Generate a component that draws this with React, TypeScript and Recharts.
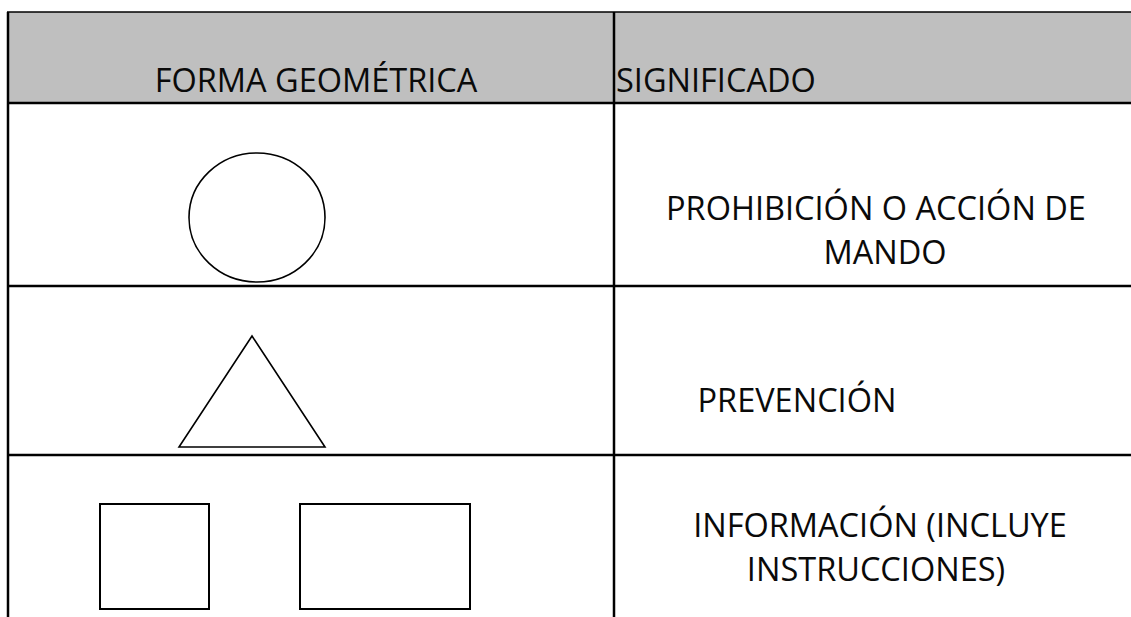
import { ComposedChart, XAxis, YAxis, ReferenceArea, ReferenceLine, Scatter } from 'recharts';

// table geometry, in page pixels (axes are 1:1 with the canvas)
const rowRules = [12, 103, 286, 455];
const columnRules = [8, 614];

const headerLabels = ['FORMA GEOMÉTRICA', 'SIGNIFICADO'];
const headerX = [316, 616];
const headerY = [92, 92];

const meaningLines = [
    'PROHIBICIÓN O ACCIÓN DE',
    'MANDO',
    'PREVENCIÓN',
    'INFORMACIÓN (INCLUYE',
    'INSTRUCCIONES)',
];
const meaningX = [876, 885, 797, 880, 876];
const meaningY = [220, 264, 412, 537, 581];

const shapeKinds = ['circle', 'triangle', 'square', 'rect'];
const shapeX1 = [189, 179, 100, 300];
const shapeX2 = [325, 325, 209, 470];
const shapeY1 = [153, 336, 504, 504];
const shapeY2 = [282, 447, 609, 609];

const W = 1131;
const H = 617;
const FONT = '"Open Sans", sans-serif';

const textData = [
    ...headerLabels.map((t, i) => ({ x: headerX[i], y: headerY[i], text: t, anchor: i === 0 ? 'middle' : 'start' })),
    ...meaningLines.map((t, i) => ({ x: meaningX[i], y: meaningY[i], text: t, anchor: 'middle' })),
];

function TextMark(props: any) {
    const { cx, cy, payload } = props;
    return (
        <text x={cx} y={cy} textAnchor={payload.anchor} fontFamily={FONT} fontSize={32.5} fill="#0a0a0a">
            {payload.text}
        </text>
    );
}

function renderShape(kind: string) {
    return (p: any) => {
        const { x, y, width, height } = p;
        if (kind === 'circle') {
            return (
                <ellipse cx={x + width / 2} cy={y + height / 2} rx={width / 2} ry={height / 2}
                    fill="none" stroke="#000" strokeWidth={1.6} />
            );
        }
        if (kind === 'triangle') {
            const pts = `${x + width / 2},${y} ${x + width},${y + height} ${x},${y + height}`;
            return <polygon points={pts} fill="none" stroke="#000" strokeWidth={1.6} strokeLinejoin="miter" />;
        }
        return <rect x={x} y={y} width={width} height={height} fill="none" stroke="#000" strokeWidth={2} />;
    };
}

export default function App() {
    return (
        <div style={{ position: 'absolute', left: 0, top: 0, width: W, height: H, background: '#fff' }}>
            <ComposedChart width={W} height={H} margin={{ top: 0, right: 0, bottom: 0, left: 0 }}>
                <XAxis type="number" dataKey="x" domain={[0, W]} hide allowDataOverflow />
                <YAxis type="number" dataKey="y" domain={[0, H]} reversed hide allowDataOverflow />

                {/* grey header band */}
                <ReferenceArea x1={columnRules[0]} x2={W} y1={rowRules[0]} y2={rowRules[1]}
                    fill="#bfbfbf" fillOpacity={1} stroke="none" ifOverflow="visible" />

                {rowRules.map((y, i) => (
                    <ReferenceLine key={'r' + i} segment={[{ x: columnRules[0] - 1, y }, { x: W, y }]}
                        stroke="#000" strokeWidth={i === 0 ? 1.5 : 2.5} ifOverflow="visible" />
                ))}
                {columnRules.map((x, i) => (
                    <ReferenceLine key={'c' + i} segment={[{ x, y: rowRules[0] }, { x, y: H }]}
                        stroke="#000" strokeWidth={2.5} ifOverflow="visible" />
                ))}

                {shapeKinds.map((k, i) => (
                    <ReferenceArea key={k} x1={shapeX1[i]} x2={shapeX2[i]} y1={shapeY1[i]} y2={shapeY2[i]}
                        ifOverflow="visible" shape={renderShape(k)} />
                ))}

                <Scatter data={textData} shape={TextMark} isAnimationActive={false} />
            </ComposedChart>
        </div>
    );
}
